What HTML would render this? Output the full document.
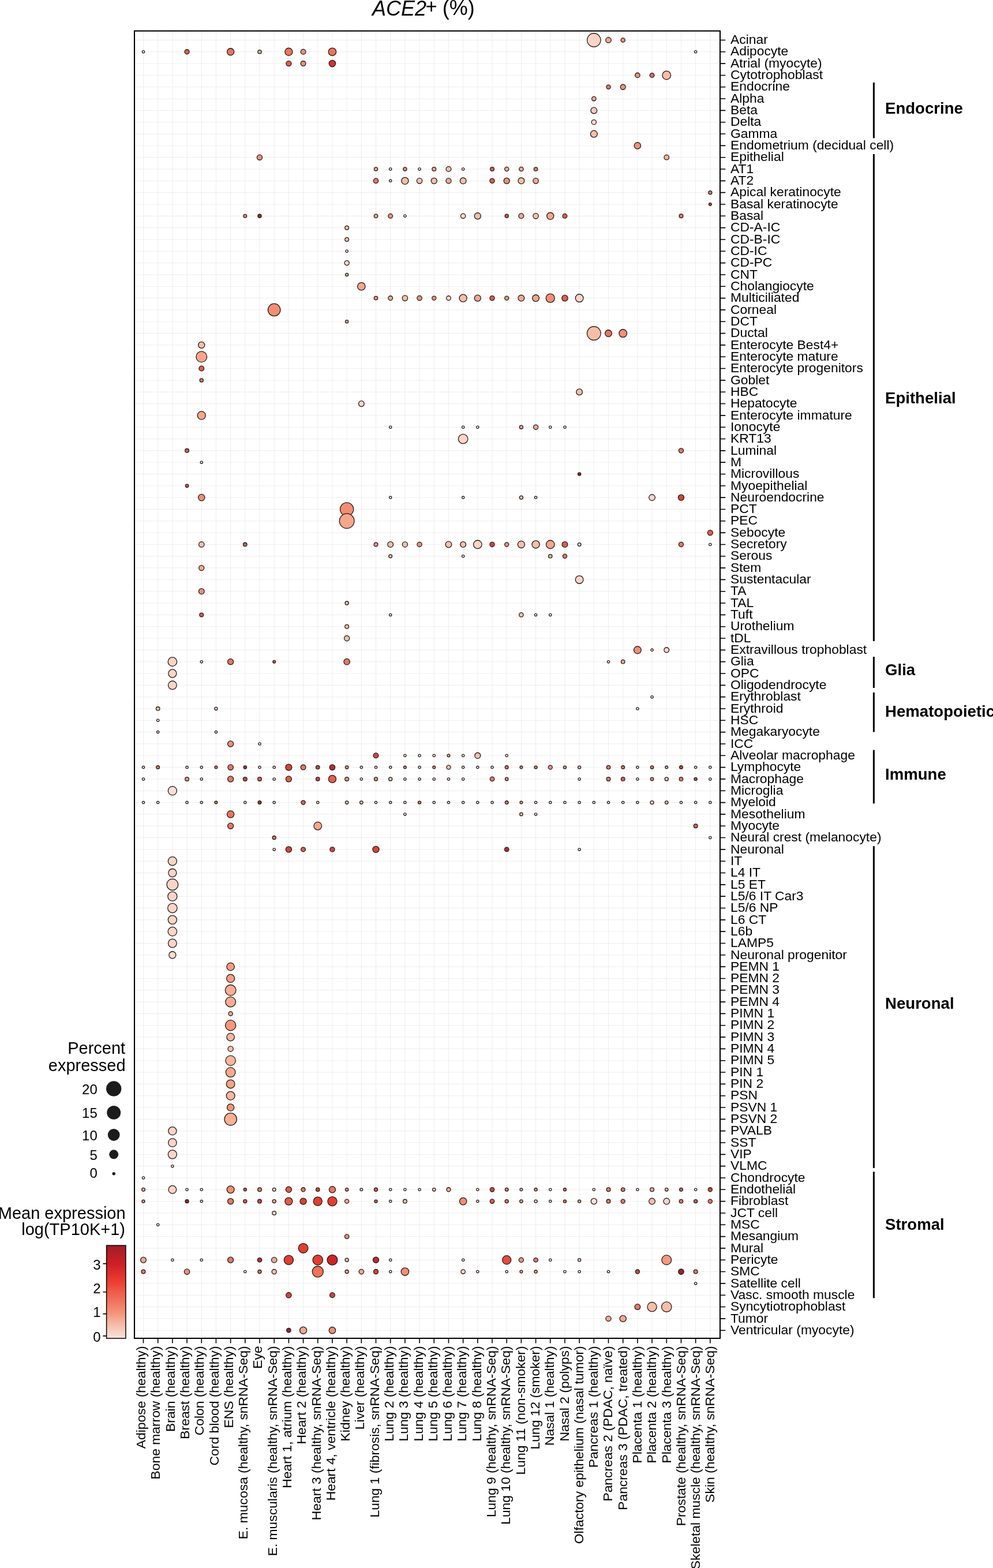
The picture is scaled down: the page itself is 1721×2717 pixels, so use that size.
<!DOCTYPE html>
<html><head><meta charset="utf-8"><title>ACE2+ (%) dot plot</title>
<style>html,body{margin:0;padding:0;background:#fff;}svg{display:block;}text{font-family:'Liberation Sans', Arial, Helvetica, sans-serif;fill:#000;}</style></head><body>
<svg width="1721" height="2717" viewBox="0 0 1721 2717">
<rect x="0" y="0" width="1721" height="2717" fill="#fff"/>
<path d="M248.50 53.60V2319.00M273.69 53.60V2319.00M298.88 53.60V2319.00M324.06 53.60V2319.00M349.25 53.60V2319.00M374.44 53.60V2319.00M399.63 53.60V2319.00M424.82 53.60V2319.00M450.00 53.60V2319.00M475.19 53.60V2319.00M500.38 53.60V2319.00M525.57 53.60V2319.00M550.76 53.60V2319.00M575.94 53.60V2319.00M601.13 53.60V2319.00M626.32 53.60V2319.00M651.51 53.60V2319.00M676.70 53.60V2319.00M701.88 53.60V2319.00M727.07 53.60V2319.00M752.26 53.60V2319.00M777.45 53.60V2319.00M802.64 53.60V2319.00M827.82 53.60V2319.00M853.01 53.60V2319.00M878.20 53.60V2319.00M903.39 53.60V2319.00M928.58 53.60V2319.00M953.76 53.60V2319.00M978.95 53.60V2319.00M1004.14 53.60V2319.00M1029.33 53.60V2319.00M1054.52 53.60V2319.00M1079.70 53.60V2319.00M1104.89 53.60V2319.00M1130.08 53.60V2319.00M1155.27 53.60V2319.00M1180.46 53.60V2319.00M1205.64 53.60V2319.00M1230.83 53.60V2319.00M233.00 69.45H1248.00M233.00 89.78H1248.00M233.00 110.10H1248.00M233.00 130.43H1248.00M233.00 150.75H1248.00M233.00 171.07H1248.00M233.00 191.40H1248.00M233.00 211.73H1248.00M233.00 232.05H1248.00M233.00 252.38H1248.00M233.00 272.70H1248.00M233.00 293.02H1248.00M233.00 313.35H1248.00M233.00 333.67H1248.00M233.00 354.00H1248.00M233.00 374.32H1248.00M233.00 394.65H1248.00M233.00 414.97H1248.00M233.00 435.30H1248.00M233.00 455.62H1248.00M233.00 475.95H1248.00M233.00 496.27H1248.00M233.00 516.60H1248.00M233.00 536.92H1248.00M233.00 557.25H1248.00M233.00 577.58H1248.00M233.00 597.90H1248.00M233.00 618.23H1248.00M233.00 638.55H1248.00M233.00 658.88H1248.00M233.00 679.20H1248.00M233.00 699.52H1248.00M233.00 719.85H1248.00M233.00 740.18H1248.00M233.00 760.50H1248.00M233.00 780.83H1248.00M233.00 801.15H1248.00M233.00 821.48H1248.00M233.00 841.80H1248.00M233.00 862.12H1248.00M233.00 882.45H1248.00M233.00 902.77H1248.00M233.00 923.10H1248.00M233.00 943.43H1248.00M233.00 963.75H1248.00M233.00 984.08H1248.00M233.00 1004.40H1248.00M233.00 1024.72H1248.00M233.00 1045.05H1248.00M233.00 1065.38H1248.00M233.00 1085.70H1248.00M233.00 1106.03H1248.00M233.00 1126.35H1248.00M233.00 1146.67H1248.00M233.00 1167.00H1248.00M233.00 1187.33H1248.00M233.00 1207.65H1248.00M233.00 1227.97H1248.00M233.00 1248.30H1248.00M233.00 1268.62H1248.00M233.00 1288.95H1248.00M233.00 1309.28H1248.00M233.00 1329.60H1248.00M233.00 1349.92H1248.00M233.00 1370.25H1248.00M233.00 1390.58H1248.00M233.00 1410.90H1248.00M233.00 1431.22H1248.00M233.00 1451.55H1248.00M233.00 1471.88H1248.00M233.00 1492.20H1248.00M233.00 1512.53H1248.00M233.00 1532.85H1248.00M233.00 1553.17H1248.00M233.00 1573.50H1248.00M233.00 1593.83H1248.00M233.00 1614.15H1248.00M233.00 1634.47H1248.00M233.00 1654.80H1248.00M233.00 1675.12H1248.00M233.00 1695.45H1248.00M233.00 1715.78H1248.00M233.00 1736.10H1248.00M233.00 1756.42H1248.00M233.00 1776.75H1248.00M233.00 1797.08H1248.00M233.00 1817.40H1248.00M233.00 1837.72H1248.00M233.00 1858.05H1248.00M233.00 1878.38H1248.00M233.00 1898.70H1248.00M233.00 1919.03H1248.00M233.00 1939.35H1248.00M233.00 1959.67H1248.00M233.00 1980.00H1248.00M233.00 2000.33H1248.00M233.00 2020.65H1248.00M233.00 2040.97H1248.00M233.00 2061.30H1248.00M233.00 2081.62H1248.00M233.00 2101.95H1248.00M233.00 2122.27H1248.00M233.00 2142.60H1248.00M233.00 2162.92H1248.00M233.00 2183.25H1248.00M233.00 2203.57H1248.00M233.00 2223.90H1248.00M233.00 2244.22H1248.00M233.00 2264.55H1248.00M233.00 2284.87H1248.00M233.00 2305.20H1248.00" stroke="#ededed" stroke-width="1" fill="none"/>
<g stroke="#2a1a16" stroke-width="1.3">
<circle cx="1029.33" cy="69.45" r="11.70" fill="#f9d5c6"/>
<circle cx="1054.52" cy="69.45" r="4.70" fill="#eca992"/>
<circle cx="1079.70" cy="69.45" r="3.60" fill="#e4947d"/>
<circle cx="248.50" cy="89.78" r="2.10" fill="#ffffff"/>
<circle cx="324.06" cy="89.78" r="4.05" fill="#d75f4d"/>
<circle cx="399.63" cy="89.78" r="6.05" fill="#ea755e"/>
<circle cx="450.00" cy="89.78" r="3.20" fill="#e8ab95"/>
<circle cx="500.38" cy="89.78" r="6.55" fill="#ec755d"/>
<circle cx="525.57" cy="89.78" r="4.35" fill="#e7927b"/>
<circle cx="575.94" cy="89.78" r="6.70" fill="#ed745c"/>
<circle cx="1205.64" cy="89.78" r="2.10" fill="#ffffff"/>
<circle cx="500.38" cy="110.10" r="4.55" fill="#da5e4c"/>
<circle cx="525.57" cy="110.10" r="4.35" fill="#e7927b"/>
<circle cx="575.94" cy="110.10" r="5.70" fill="#cd3531"/>
<circle cx="1104.89" cy="130.43" r="4.20" fill="#e6937c"/>
<circle cx="1130.08" cy="130.43" r="3.85" fill="#da6d5a"/>
<circle cx="1155.27" cy="130.43" r="7.30" fill="#f7bea6"/>
<circle cx="1054.52" cy="150.75" r="3.55" fill="#dd7a66"/>
<circle cx="1079.70" cy="150.75" r="4.50" fill="#e7927b"/>
<circle cx="1029.33" cy="171.07" r="3.70" fill="#e9aa95"/>
<circle cx="1029.33" cy="191.40" r="5.35" fill="#f4cbb9"/>
<circle cx="1029.33" cy="211.73" r="4.10" fill="#f6ddd4"/>
<circle cx="1029.33" cy="232.05" r="5.90" fill="#f4bfa9"/>
<circle cx="1104.89" cy="252.38" r="5.65" fill="#ec9177"/>
<circle cx="450.00" cy="272.70" r="4.55" fill="#e8927a"/>
<circle cx="1155.27" cy="272.70" r="4.25" fill="#edb59f"/>
<circle cx="651.51" cy="293.02" r="3.05" fill="#e8ab95"/>
<circle cx="676.70" cy="293.02" r="2.10" fill="#ffffff"/>
<circle cx="701.88" cy="293.02" r="3.05" fill="#e3947e"/>
<circle cx="727.07" cy="293.02" r="2.10" fill="#ffffff"/>
<circle cx="752.26" cy="293.02" r="3.35" fill="#e8ab95"/>
<circle cx="777.45" cy="293.02" r="4.35" fill="#f0c0ac"/>
<circle cx="802.64" cy="293.02" r="2.10" fill="#ffffff"/>
<circle cx="853.01" cy="293.02" r="3.35" fill="#d36150"/>
<circle cx="878.20" cy="293.02" r="3.55" fill="#e9aa95"/>
<circle cx="903.39" cy="293.02" r="3.70" fill="#e9aa95"/>
<circle cx="928.58" cy="293.02" r="3.20" fill="#dc7b67"/>
<circle cx="651.51" cy="313.35" r="4.20" fill="#e07964"/>
<circle cx="676.70" cy="313.35" r="2.10" fill="#ffffff"/>
<circle cx="701.88" cy="313.35" r="6.05" fill="#f4bfa9"/>
<circle cx="727.07" cy="313.35" r="4.70" fill="#f1c0ac"/>
<circle cx="752.26" cy="313.35" r="5.05" fill="#f2c0ab"/>
<circle cx="777.45" cy="313.35" r="4.55" fill="#eca992"/>
<circle cx="802.64" cy="313.35" r="5.35" fill="#f2c0aa"/>
<circle cx="853.01" cy="313.35" r="4.05" fill="#d75f4d"/>
<circle cx="878.20" cy="313.35" r="5.05" fill="#ea9179"/>
<circle cx="903.39" cy="313.35" r="5.35" fill="#f2c0aa"/>
<circle cx="928.58" cy="313.35" r="4.70" fill="#eca992"/>
<circle cx="1230.83" cy="333.67" r="3.05" fill="#dc7b67"/>
<circle cx="1230.83" cy="354.00" r="2.35" fill="#c9493e"/>
<circle cx="424.82" cy="374.32" r="2.85" fill="#e3947e"/>
<circle cx="450.00" cy="374.32" r="3.05" fill="#a22a2e"/>
<circle cx="651.51" cy="374.32" r="3.20" fill="#e8ab95"/>
<circle cx="676.70" cy="374.32" r="3.85" fill="#e5937d"/>
<circle cx="701.88" cy="374.32" r="2.10" fill="#ffffff"/>
<circle cx="802.64" cy="374.32" r="4.20" fill="#f4d7ca"/>
<circle cx="827.82" cy="374.32" r="5.55" fill="#f3bfaa"/>
<circle cx="878.20" cy="374.32" r="3.05" fill="#d36150"/>
<circle cx="903.39" cy="374.32" r="4.35" fill="#eba993"/>
<circle cx="928.58" cy="374.32" r="4.70" fill="#f1c0ac"/>
<circle cx="953.76" cy="374.32" r="6.05" fill="#f1a78e"/>
<circle cx="978.95" cy="374.32" r="3.85" fill="#d6604e"/>
<circle cx="1180.46" cy="374.32" r="3.35" fill="#dc7b67"/>
<circle cx="601.13" cy="394.65" r="3.35" fill="#eec1ae"/>
<circle cx="601.13" cy="414.97" r="3.35" fill="#eec1ae"/>
<circle cx="601.13" cy="435.30" r="2.10" fill="#ffffff"/>
<circle cx="601.13" cy="455.62" r="4.05" fill="#f4d7ca"/>
<circle cx="601.13" cy="475.95" r="2.55" fill="#e8ab95"/>
<circle cx="626.32" cy="496.27" r="6.70" fill="#f3a78d"/>
<circle cx="651.51" cy="516.60" r="3.20" fill="#e3947e"/>
<circle cx="676.70" cy="516.60" r="3.85" fill="#eaaa94"/>
<circle cx="701.88" cy="516.60" r="4.70" fill="#f1c0ac"/>
<circle cx="727.07" cy="516.60" r="4.20" fill="#e6937c"/>
<circle cx="752.26" cy="516.60" r="3.55" fill="#e4947d"/>
<circle cx="777.45" cy="516.60" r="3.85" fill="#f4d7cb"/>
<circle cx="802.64" cy="516.60" r="6.55" fill="#f5bfa8"/>
<circle cx="827.82" cy="516.60" r="5.55" fill="#efa890"/>
<circle cx="853.01" cy="516.60" r="4.05" fill="#d75f4d"/>
<circle cx="878.20" cy="516.60" r="3.55" fill="#e4947d"/>
<circle cx="903.39" cy="516.60" r="5.35" fill="#efa890"/>
<circle cx="928.58" cy="516.60" r="5.85" fill="#f0a88f"/>
<circle cx="953.76" cy="516.60" r="7.55" fill="#f38e72"/>
<circle cx="978.95" cy="516.60" r="5.20" fill="#de5d49"/>
<circle cx="1004.14" cy="516.60" r="6.85" fill="#f8d5c7"/>
<circle cx="475.19" cy="536.92" r="10.70" fill="#f38e72"/>
<circle cx="601.13" cy="557.25" r="2.55" fill="#e8ab95"/>
<circle cx="1029.33" cy="577.58" r="11.85" fill="#f7bea6"/>
<circle cx="1054.52" cy="577.58" r="5.85" fill="#e9765f"/>
<circle cx="1079.70" cy="577.58" r="6.85" fill="#f18f74"/>
<circle cx="349.25" cy="597.90" r="5.55" fill="#f3bfaa"/>
<circle cx="349.25" cy="618.23" r="9.35" fill="#f5a68b"/>
<circle cx="349.25" cy="638.55" r="4.35" fill="#d95f4c"/>
<circle cx="349.25" cy="658.88" r="3.05" fill="#dc7b67"/>
<circle cx="1004.14" cy="679.20" r="5.35" fill="#f2c0aa"/>
<circle cx="626.32" cy="699.52" r="4.85" fill="#f5d6c9"/>
<circle cx="349.25" cy="719.85" r="7.05" fill="#f4a68c"/>
<circle cx="676.70" cy="740.18" r="2.10" fill="#ffffff"/>
<circle cx="802.64" cy="740.18" r="2.10" fill="#ffffff"/>
<circle cx="827.82" cy="740.18" r="2.10" fill="#ffffff"/>
<circle cx="903.39" cy="740.18" r="3.05" fill="#e8ab95"/>
<circle cx="928.58" cy="740.18" r="4.05" fill="#eaaa94"/>
<circle cx="953.76" cy="740.18" r="2.10" fill="#ffffff"/>
<circle cx="978.95" cy="740.18" r="2.10" fill="#ffffff"/>
<circle cx="802.64" cy="760.50" r="8.20" fill="#f9d5c6"/>
<circle cx="324.06" cy="780.83" r="3.35" fill="#d36150"/>
<circle cx="1180.46" cy="780.83" r="4.05" fill="#e07965"/>
<circle cx="349.25" cy="801.15" r="2.10" fill="#ffffff"/>
<circle cx="1004.14" cy="821.48" r="2.55" fill="#93252a"/>
<circle cx="324.06" cy="841.80" r="2.70" fill="#d36150"/>
<circle cx="349.25" cy="862.12" r="5.70" fill="#ec9077"/>
<circle cx="676.70" cy="862.12" r="2.10" fill="#ffffff"/>
<circle cx="802.64" cy="862.12" r="2.10" fill="#ffffff"/>
<circle cx="903.39" cy="862.12" r="3.05" fill="#eec1ae"/>
<circle cx="928.58" cy="862.12" r="2.10" fill="#ffffff"/>
<circle cx="1130.08" cy="862.12" r="5.35" fill="#f6d6c9"/>
<circle cx="1180.46" cy="862.12" r="5.05" fill="#d44438"/>
<circle cx="601.13" cy="882.45" r="11.55" fill="#f38e72"/>
<circle cx="601.13" cy="902.77" r="12.85" fill="#f5a68b"/>
<circle cx="1230.83" cy="923.10" r="4.55" fill="#da5e4c"/>
<circle cx="349.25" cy="943.43" r="4.70" fill="#f1c0ac"/>
<circle cx="424.82" cy="943.43" r="3.20" fill="#d36150"/>
<circle cx="651.51" cy="943.43" r="3.35" fill="#e3947e"/>
<circle cx="676.70" cy="943.43" r="4.85" fill="#f1c0ab"/>
<circle cx="701.88" cy="943.43" r="4.55" fill="#f0c0ac"/>
<circle cx="727.07" cy="943.43" r="4.05" fill="#e6937c"/>
<circle cx="777.45" cy="943.43" r="5.35" fill="#f2c0aa"/>
<circle cx="802.64" cy="943.43" r="4.85" fill="#f1c0ab"/>
<circle cx="827.82" cy="943.43" r="7.20" fill="#f9d5c6"/>
<circle cx="853.01" cy="943.43" r="4.05" fill="#ce473b"/>
<circle cx="878.20" cy="943.43" r="3.55" fill="#e4947d"/>
<circle cx="903.39" cy="943.43" r="6.05" fill="#f4bfa9"/>
<circle cx="928.58" cy="943.43" r="6.55" fill="#f5bfa8"/>
<circle cx="953.76" cy="943.43" r="7.20" fill="#f5a68b"/>
<circle cx="978.95" cy="943.43" r="4.85" fill="#dc5e4b"/>
<circle cx="1004.14" cy="943.43" r="2.85" fill="#f3d7cb"/>
<circle cx="1180.46" cy="943.43" r="4.05" fill="#e07965"/>
<circle cx="1230.83" cy="943.43" r="2.10" fill="#ffffff"/>
<circle cx="676.70" cy="963.75" r="2.85" fill="#eec1ae"/>
<circle cx="802.64" cy="963.75" r="2.10" fill="#ffffff"/>
<circle cx="953.76" cy="963.75" r="3.20" fill="#e8ab95"/>
<circle cx="978.95" cy="963.75" r="3.55" fill="#dd7a66"/>
<circle cx="349.25" cy="984.08" r="4.55" fill="#eca992"/>
<circle cx="1004.14" cy="1004.40" r="6.85" fill="#f8d5c7"/>
<circle cx="349.25" cy="1024.72" r="4.85" fill="#e9927a"/>
<circle cx="601.13" cy="1045.05" r="3.05" fill="#eec1ae"/>
<circle cx="349.25" cy="1065.38" r="3.35" fill="#d36150"/>
<circle cx="676.70" cy="1065.38" r="2.10" fill="#ffffff"/>
<circle cx="903.39" cy="1065.38" r="3.70" fill="#eec1ae"/>
<circle cx="928.58" cy="1065.38" r="2.10" fill="#ffffff"/>
<circle cx="953.76" cy="1065.38" r="2.10" fill="#ffffff"/>
<circle cx="601.13" cy="1085.70" r="3.35" fill="#eec1ae"/>
<circle cx="601.13" cy="1106.03" r="4.55" fill="#f0c0ac"/>
<circle cx="1104.89" cy="1126.35" r="6.35" fill="#ef8f75"/>
<circle cx="1130.08" cy="1126.35" r="2.10" fill="#ffffff"/>
<circle cx="1155.27" cy="1126.35" r="4.35" fill="#f5d6ca"/>
<circle cx="298.88" cy="1146.67" r="7.70" fill="#f9d5c6"/>
<circle cx="349.25" cy="1146.67" r="2.10" fill="#ffffff"/>
<circle cx="399.63" cy="1146.67" r="5.05" fill="#e57762"/>
<circle cx="475.19" cy="1146.67" r="2.35" fill="#d36150"/>
<circle cx="601.13" cy="1146.67" r="5.20" fill="#e57761"/>
<circle cx="1054.52" cy="1146.67" r="2.10" fill="#ffffff"/>
<circle cx="1079.70" cy="1146.67" r="3.20" fill="#e8ab95"/>
<circle cx="298.88" cy="1167.00" r="7.05" fill="#f9d5c6"/>
<circle cx="298.88" cy="1187.33" r="7.35" fill="#f9d5c6"/>
<circle cx="1130.08" cy="1207.65" r="2.10" fill="#ffffff"/>
<circle cx="273.69" cy="1227.97" r="3.20" fill="#eec1ae"/>
<circle cx="374.44" cy="1227.97" r="2.55" fill="#f3d7cb"/>
<circle cx="1104.89" cy="1227.97" r="2.10" fill="#ffffff"/>
<circle cx="273.69" cy="1248.30" r="2.10" fill="#ffffff"/>
<circle cx="273.69" cy="1268.62" r="2.10" fill="#ffffff"/>
<circle cx="374.44" cy="1268.62" r="2.10" fill="#ffffff"/>
<circle cx="399.63" cy="1288.95" r="5.05" fill="#ea9179"/>
<circle cx="450.00" cy="1288.95" r="2.10" fill="#ffffff"/>
<circle cx="651.51" cy="1309.28" r="4.35" fill="#d0463a"/>
<circle cx="701.88" cy="1309.28" r="2.10" fill="#ffffff"/>
<circle cx="727.07" cy="1309.28" r="2.10" fill="#ffffff"/>
<circle cx="752.26" cy="1309.28" r="2.10" fill="#ffffff"/>
<circle cx="777.45" cy="1309.28" r="2.35" fill="#e8ab95"/>
<circle cx="802.64" cy="1309.28" r="2.10" fill="#ffffff"/>
<circle cx="827.82" cy="1309.28" r="5.05" fill="#f2c0ab"/>
<circle cx="878.20" cy="1309.28" r="2.10" fill="#ffffff"/>
<circle cx="248.50" cy="1329.60" r="2.10" fill="#ffffff"/>
<circle cx="273.69" cy="1329.60" r="2.85" fill="#dc7b67"/>
<circle cx="324.06" cy="1329.60" r="2.10" fill="#ffffff"/>
<circle cx="349.25" cy="1329.60" r="2.10" fill="#ffffff"/>
<circle cx="374.44" cy="1329.60" r="2.35" fill="#dc7b67"/>
<circle cx="399.63" cy="1329.60" r="4.70" fill="#e37863"/>
<circle cx="424.82" cy="1329.60" r="2.65" fill="#b22f32"/>
<circle cx="450.00" cy="1329.60" r="2.10" fill="#ffffff"/>
<circle cx="475.19" cy="1329.60" r="2.10" fill="#ffffff"/>
<circle cx="500.38" cy="1329.60" r="5.55" fill="#d74336"/>
<circle cx="525.57" cy="1329.60" r="4.35" fill="#e17964"/>
<circle cx="550.76" cy="1329.60" r="3.20" fill="#c9493e"/>
<circle cx="575.94" cy="1329.60" r="4.70" fill="#bb2b2f"/>
<circle cx="601.13" cy="1329.60" r="2.70" fill="#e3947e"/>
<circle cx="626.32" cy="1329.60" r="2.10" fill="#ffffff"/>
<circle cx="651.51" cy="1329.60" r="2.10" fill="#ffffff"/>
<circle cx="676.70" cy="1329.60" r="2.10" fill="#ffffff"/>
<circle cx="701.88" cy="1329.60" r="2.35" fill="#e3947e"/>
<circle cx="727.07" cy="1329.60" r="2.10" fill="#ffffff"/>
<circle cx="752.26" cy="1329.60" r="2.35" fill="#e3947e"/>
<circle cx="777.45" cy="1329.60" r="3.55" fill="#eec1ae"/>
<circle cx="802.64" cy="1329.60" r="2.10" fill="#ffffff"/>
<circle cx="827.82" cy="1329.60" r="2.10" fill="#ffffff"/>
<circle cx="853.01" cy="1329.60" r="2.10" fill="#ffffff"/>
<circle cx="878.20" cy="1329.60" r="2.85" fill="#dc7b67"/>
<circle cx="903.39" cy="1329.60" r="2.35" fill="#e3947e"/>
<circle cx="928.58" cy="1329.60" r="2.55" fill="#dc7b67"/>
<circle cx="953.76" cy="1329.60" r="3.55" fill="#e4947d"/>
<circle cx="978.95" cy="1329.60" r="2.55" fill="#e3947e"/>
<circle cx="1004.14" cy="1329.60" r="2.55" fill="#eec1ae"/>
<circle cx="1054.52" cy="1329.60" r="3.20" fill="#dc7b67"/>
<circle cx="1079.70" cy="1329.60" r="2.85" fill="#dc7b67"/>
<circle cx="1104.89" cy="1329.60" r="2.10" fill="#ffffff"/>
<circle cx="1130.08" cy="1329.60" r="2.70" fill="#dc7b67"/>
<circle cx="1155.27" cy="1329.60" r="2.35" fill="#e8ab95"/>
<circle cx="1180.46" cy="1329.60" r="2.85" fill="#c9493e"/>
<circle cx="1205.64" cy="1329.60" r="2.10" fill="#ffffff"/>
<circle cx="1230.83" cy="1329.60" r="2.10" fill="#ffffff"/>
<circle cx="248.50" cy="1349.92" r="2.10" fill="#ffffff"/>
<circle cx="324.06" cy="1349.92" r="3.35" fill="#e3947e"/>
<circle cx="349.25" cy="1349.92" r="2.10" fill="#ffffff"/>
<circle cx="399.63" cy="1349.92" r="5.05" fill="#e57762"/>
<circle cx="424.82" cy="1349.92" r="3.35" fill="#c9493e"/>
<circle cx="450.00" cy="1349.92" r="3.35" fill="#d36150"/>
<circle cx="475.19" cy="1349.92" r="2.10" fill="#ffffff"/>
<circle cx="500.38" cy="1349.92" r="5.05" fill="#dd5d4a"/>
<circle cx="550.76" cy="1349.92" r="3.20" fill="#c9493e"/>
<circle cx="575.94" cy="1349.92" r="6.55" fill="#e75f4a"/>
<circle cx="601.13" cy="1349.92" r="3.35" fill="#e3947e"/>
<circle cx="626.32" cy="1349.92" r="2.10" fill="#ffffff"/>
<circle cx="651.51" cy="1349.92" r="3.05" fill="#e3947e"/>
<circle cx="676.70" cy="1349.92" r="3.05" fill="#eec1ae"/>
<circle cx="701.88" cy="1349.92" r="2.10" fill="#ffffff"/>
<circle cx="727.07" cy="1349.92" r="2.10" fill="#ffffff"/>
<circle cx="752.26" cy="1349.92" r="2.10" fill="#ffffff"/>
<circle cx="777.45" cy="1349.92" r="2.10" fill="#ffffff"/>
<circle cx="802.64" cy="1349.92" r="2.10" fill="#ffffff"/>
<circle cx="853.01" cy="1349.92" r="3.70" fill="#de7a66"/>
<circle cx="878.20" cy="1349.92" r="2.70" fill="#e3947e"/>
<circle cx="1004.14" cy="1349.92" r="2.10" fill="#ffffff"/>
<circle cx="1054.52" cy="1349.92" r="3.35" fill="#dc7b67"/>
<circle cx="1079.70" cy="1349.92" r="3.20" fill="#d36150"/>
<circle cx="1104.89" cy="1349.92" r="2.10" fill="#ffffff"/>
<circle cx="1130.08" cy="1349.92" r="2.70" fill="#e3947e"/>
<circle cx="1155.27" cy="1349.92" r="3.05" fill="#eec1ae"/>
<circle cx="1180.46" cy="1349.92" r="3.20" fill="#dc7b67"/>
<circle cx="1205.64" cy="1349.92" r="2.55" fill="#c9493e"/>
<circle cx="1230.83" cy="1349.92" r="2.10" fill="#ffffff"/>
<circle cx="298.88" cy="1370.25" r="7.55" fill="#fbdfd4"/>
<circle cx="248.50" cy="1390.58" r="2.10" fill="#ffffff"/>
<circle cx="273.69" cy="1390.58" r="2.10" fill="#ffffff"/>
<circle cx="324.06" cy="1390.58" r="2.10" fill="#ffffff"/>
<circle cx="349.25" cy="1390.58" r="2.10" fill="#ffffff"/>
<circle cx="374.44" cy="1390.58" r="2.35" fill="#dc7b67"/>
<circle cx="424.82" cy="1390.58" r="2.10" fill="#ffffff"/>
<circle cx="450.00" cy="1390.58" r="2.85" fill="#b22f32"/>
<circle cx="475.19" cy="1390.58" r="2.10" fill="#ffffff"/>
<circle cx="525.57" cy="1390.58" r="3.55" fill="#d4614f"/>
<circle cx="550.76" cy="1390.58" r="2.10" fill="#ffffff"/>
<circle cx="601.13" cy="1390.58" r="2.70" fill="#eec1ae"/>
<circle cx="626.32" cy="1390.58" r="2.70" fill="#eec1ae"/>
<circle cx="651.51" cy="1390.58" r="2.10" fill="#ffffff"/>
<circle cx="676.70" cy="1390.58" r="2.10" fill="#ffffff"/>
<circle cx="701.88" cy="1390.58" r="2.10" fill="#ffffff"/>
<circle cx="727.07" cy="1390.58" r="2.55" fill="#dc7b67"/>
<circle cx="752.26" cy="1390.58" r="2.10" fill="#ffffff"/>
<circle cx="777.45" cy="1390.58" r="2.10" fill="#ffffff"/>
<circle cx="802.64" cy="1390.58" r="2.10" fill="#ffffff"/>
<circle cx="827.82" cy="1390.58" r="2.10" fill="#ffffff"/>
<circle cx="853.01" cy="1390.58" r="2.10" fill="#ffffff"/>
<circle cx="878.20" cy="1390.58" r="2.85" fill="#dc7b67"/>
<circle cx="903.39" cy="1390.58" r="2.35" fill="#e8ab95"/>
<circle cx="928.58" cy="1390.58" r="2.10" fill="#ffffff"/>
<circle cx="953.76" cy="1390.58" r="2.10" fill="#ffffff"/>
<circle cx="978.95" cy="1390.58" r="2.10" fill="#ffffff"/>
<circle cx="1004.14" cy="1390.58" r="2.10" fill="#ffffff"/>
<circle cx="1029.33" cy="1390.58" r="2.10" fill="#ffffff"/>
<circle cx="1054.52" cy="1390.58" r="2.10" fill="#ffffff"/>
<circle cx="1079.70" cy="1390.58" r="2.10" fill="#ffffff"/>
<circle cx="1104.89" cy="1390.58" r="2.10" fill="#ffffff"/>
<circle cx="1130.08" cy="1390.58" r="3.05" fill="#f3d7cb"/>
<circle cx="1155.27" cy="1390.58" r="2.70" fill="#eec1ae"/>
<circle cx="1180.46" cy="1390.58" r="2.10" fill="#ffffff"/>
<circle cx="1205.64" cy="1390.58" r="2.10" fill="#ffffff"/>
<circle cx="1230.83" cy="1390.58" r="2.10" fill="#ffffff"/>
<circle cx="399.63" cy="1410.90" r="6.05" fill="#ea755e"/>
<circle cx="701.88" cy="1410.90" r="2.10" fill="#ffffff"/>
<circle cx="903.39" cy="1410.90" r="2.70" fill="#eec1ae"/>
<circle cx="928.58" cy="1410.90" r="2.10" fill="#ffffff"/>
<circle cx="399.63" cy="1431.22" r="5.05" fill="#e57762"/>
<circle cx="550.76" cy="1431.22" r="6.85" fill="#f3a78c"/>
<circle cx="1205.64" cy="1431.22" r="3.35" fill="#d36150"/>
<circle cx="475.19" cy="1451.55" r="3.05" fill="#dc7b67"/>
<circle cx="1230.83" cy="1451.55" r="2.10" fill="#ffffff"/>
<circle cx="475.19" cy="1471.88" r="2.10" fill="#ffffff"/>
<circle cx="500.38" cy="1471.88" r="5.05" fill="#d44438"/>
<circle cx="525.57" cy="1471.88" r="3.85" fill="#d6604e"/>
<circle cx="575.94" cy="1471.88" r="4.05" fill="#ce473b"/>
<circle cx="651.51" cy="1471.88" r="5.55" fill="#d74336"/>
<circle cx="878.20" cy="1471.88" r="3.70" fill="#b42e31"/>
<circle cx="1004.14" cy="1471.88" r="2.10" fill="#ffffff"/>
<circle cx="298.88" cy="1492.20" r="7.55" fill="#f9d5c6"/>
<circle cx="298.88" cy="1512.53" r="7.05" fill="#f9d5c6"/>
<circle cx="298.88" cy="1532.85" r="9.85" fill="#f9d5c6"/>
<circle cx="298.88" cy="1553.17" r="8.05" fill="#f9d5c6"/>
<circle cx="298.88" cy="1573.50" r="8.20" fill="#f9d5c6"/>
<circle cx="298.88" cy="1593.83" r="7.55" fill="#f9d5c6"/>
<circle cx="298.88" cy="1614.15" r="7.70" fill="#f9d5c6"/>
<circle cx="298.88" cy="1634.47" r="7.35" fill="#f9d5c6"/>
<circle cx="298.88" cy="1654.80" r="6.05" fill="#f8ddd1"/>
<circle cx="399.63" cy="1675.12" r="6.70" fill="#f29b80"/>
<circle cx="399.63" cy="1695.45" r="7.00" fill="#f39f85"/>
<circle cx="399.63" cy="1715.78" r="9.30" fill="#f6ad93"/>
<circle cx="399.63" cy="1736.10" r="8.80" fill="#f6ad93"/>
<circle cx="399.63" cy="1756.42" r="3.60" fill="#e9aa95"/>
<circle cx="399.63" cy="1776.75" r="9.05" fill="#f4987c"/>
<circle cx="399.63" cy="1797.08" r="6.70" fill="#f4b89f"/>
<circle cx="399.63" cy="1817.40" r="4.60" fill="#f1c0ac"/>
<circle cx="399.63" cy="1837.72" r="8.65" fill="#f6b79e"/>
<circle cx="399.63" cy="1858.05" r="8.35" fill="#f5a88e"/>
<circle cx="399.63" cy="1878.38" r="7.35" fill="#f5a488"/>
<circle cx="399.63" cy="1898.70" r="7.35" fill="#f6b79e"/>
<circle cx="399.63" cy="1919.03" r="6.10" fill="#ee957b"/>
<circle cx="399.63" cy="1939.35" r="10.65" fill="#f6b096"/>
<circle cx="298.88" cy="1959.67" r="7.05" fill="#f9d5c6"/>
<circle cx="298.88" cy="1980.00" r="7.20" fill="#f9d5c6"/>
<circle cx="298.88" cy="2000.33" r="7.55" fill="#f9d5c6"/>
<circle cx="298.88" cy="2020.65" r="2.10" fill="#ffffff"/>
<circle cx="248.50" cy="2040.97" r="2.10" fill="#ffffff"/>
<circle cx="248.50" cy="2061.30" r="2.85" fill="#e8ab95"/>
<circle cx="298.88" cy="2061.30" r="6.85" fill="#f8d5c7"/>
<circle cx="324.06" cy="2061.30" r="2.10" fill="#ffffff"/>
<circle cx="349.25" cy="2061.30" r="2.10" fill="#ffffff"/>
<circle cx="399.63" cy="2061.30" r="6.35" fill="#ef8f75"/>
<circle cx="424.82" cy="2061.30" r="2.55" fill="#d36150"/>
<circle cx="450.00" cy="2061.30" r="3.35" fill="#dc7b67"/>
<circle cx="475.19" cy="2061.30" r="2.85" fill="#f3d7cb"/>
<circle cx="500.38" cy="2061.30" r="5.05" fill="#dd5d4a"/>
<circle cx="525.57" cy="2061.30" r="3.55" fill="#dd7a66"/>
<circle cx="550.76" cy="2061.30" r="3.20" fill="#c9493e"/>
<circle cx="575.94" cy="2061.30" r="5.55" fill="#e77660"/>
<circle cx="601.13" cy="2061.30" r="2.70" fill="#e3947e"/>
<circle cx="626.32" cy="2061.30" r="2.35" fill="#f3d7cb"/>
<circle cx="651.51" cy="2061.30" r="3.05" fill="#d36150"/>
<circle cx="676.70" cy="2061.30" r="2.10" fill="#ffffff"/>
<circle cx="701.88" cy="2061.30" r="2.10" fill="#ffffff"/>
<circle cx="727.07" cy="2061.30" r="2.10" fill="#ffffff"/>
<circle cx="752.26" cy="2061.30" r="2.70" fill="#f3d7cb"/>
<circle cx="777.45" cy="2061.30" r="3.55" fill="#e9aa95"/>
<circle cx="827.82" cy="2061.30" r="2.10" fill="#ffffff"/>
<circle cx="853.01" cy="2061.30" r="3.70" fill="#cb483c"/>
<circle cx="878.20" cy="2061.30" r="2.85" fill="#dc7b67"/>
<circle cx="903.39" cy="2061.30" r="2.35" fill="#eec1ae"/>
<circle cx="928.58" cy="2061.30" r="2.55" fill="#e3947e"/>
<circle cx="953.76" cy="2061.30" r="2.10" fill="#ffffff"/>
<circle cx="978.95" cy="2061.30" r="2.55" fill="#dc7b67"/>
<circle cx="1029.33" cy="2061.30" r="2.10" fill="#ffffff"/>
<circle cx="1054.52" cy="2061.30" r="3.35" fill="#dc7b67"/>
<circle cx="1079.70" cy="2061.30" r="3.20" fill="#dc7b67"/>
<circle cx="1104.89" cy="2061.30" r="2.10" fill="#ffffff"/>
<circle cx="1130.08" cy="2061.30" r="3.35" fill="#e8ab95"/>
<circle cx="1155.27" cy="2061.30" r="2.70" fill="#eec1ae"/>
<circle cx="1180.46" cy="2061.30" r="2.85" fill="#d36150"/>
<circle cx="1205.64" cy="2061.30" r="2.10" fill="#ffffff"/>
<circle cx="1230.83" cy="2061.30" r="3.55" fill="#ca483d"/>
<circle cx="248.50" cy="2081.62" r="2.55" fill="#e3947e"/>
<circle cx="324.06" cy="2081.62" r="3.05" fill="#93252a"/>
<circle cx="349.25" cy="2081.62" r="2.10" fill="#ffffff"/>
<circle cx="399.63" cy="2081.62" r="5.05" fill="#e57762"/>
<circle cx="424.82" cy="2081.62" r="3.05" fill="#d36150"/>
<circle cx="450.00" cy="2081.62" r="3.35" fill="#c9493e"/>
<circle cx="475.19" cy="2081.62" r="3.05" fill="#e8ab95"/>
<circle cx="500.38" cy="2081.62" r="6.55" fill="#e55a45"/>
<circle cx="525.57" cy="2081.62" r="5.55" fill="#d74336"/>
<circle cx="550.76" cy="2081.62" r="7.55" fill="#e33e30"/>
<circle cx="575.94" cy="2081.62" r="8.05" fill="#e33e30"/>
<circle cx="601.13" cy="2081.62" r="3.55" fill="#e9aa95"/>
<circle cx="651.51" cy="2081.62" r="2.55" fill="#d36150"/>
<circle cx="676.70" cy="2081.62" r="2.10" fill="#ffffff"/>
<circle cx="701.88" cy="2081.62" r="3.35" fill="#eec1ae"/>
<circle cx="802.64" cy="2081.62" r="6.20" fill="#ee9075"/>
<circle cx="827.82" cy="2081.62" r="2.10" fill="#ffffff"/>
<circle cx="853.01" cy="2081.62" r="3.70" fill="#d5604f"/>
<circle cx="878.20" cy="2081.62" r="3.05" fill="#dc7b67"/>
<circle cx="903.39" cy="2081.62" r="2.70" fill="#e8ab95"/>
<circle cx="928.58" cy="2081.62" r="2.55" fill="#f3d7cb"/>
<circle cx="953.76" cy="2081.62" r="2.10" fill="#ffffff"/>
<circle cx="978.95" cy="2081.62" r="2.55" fill="#dc7b67"/>
<circle cx="1004.14" cy="2081.62" r="2.55" fill="#e8ab95"/>
<circle cx="1029.33" cy="2081.62" r="5.05" fill="#f9e3d9"/>
<circle cx="1054.52" cy="2081.62" r="3.35" fill="#dc7b67"/>
<circle cx="1079.70" cy="2081.62" r="3.55" fill="#dd7a66"/>
<circle cx="1130.08" cy="2081.62" r="5.35" fill="#f2c0aa"/>
<circle cx="1155.27" cy="2081.62" r="5.35" fill="#f6d6c9"/>
<circle cx="1180.46" cy="2081.62" r="3.20" fill="#dc7b67"/>
<circle cx="1205.64" cy="2081.62" r="3.05" fill="#d36150"/>
<circle cx="1230.83" cy="2081.62" r="3.55" fill="#dd7a66"/>
<circle cx="475.19" cy="2101.95" r="3.35" fill="#f3d7cb"/>
<circle cx="273.69" cy="2122.27" r="2.10" fill="#ffffff"/>
<circle cx="601.13" cy="2142.60" r="3.70" fill="#e4937d"/>
<circle cx="525.57" cy="2162.92" r="8.35" fill="#e33e30"/>
<circle cx="248.50" cy="2183.25" r="4.85" fill="#eda992"/>
<circle cx="298.88" cy="2183.25" r="2.10" fill="#ffffff"/>
<circle cx="349.25" cy="2183.25" r="2.10" fill="#ffffff"/>
<circle cx="399.63" cy="2183.25" r="5.05" fill="#e57762"/>
<circle cx="450.00" cy="2183.25" r="3.70" fill="#b42e31"/>
<circle cx="475.19" cy="2183.25" r="4.70" fill="#eca992"/>
<circle cx="500.38" cy="2183.25" r="8.05" fill="#e33e30"/>
<circle cx="550.76" cy="2183.25" r="8.70" fill="#e33e30"/>
<circle cx="575.94" cy="2183.25" r="8.85" fill="#cc2428"/>
<circle cx="601.13" cy="2183.25" r="3.05" fill="#eec1ae"/>
<circle cx="651.51" cy="2183.25" r="5.05" fill="#bd2a2e"/>
<circle cx="676.70" cy="2183.25" r="2.10" fill="#ffffff"/>
<circle cx="802.64" cy="2183.25" r="2.10" fill="#ffffff"/>
<circle cx="878.20" cy="2183.25" r="7.55" fill="#e64b39"/>
<circle cx="903.39" cy="2183.25" r="4.05" fill="#e6937c"/>
<circle cx="928.58" cy="2183.25" r="3.70" fill="#de7a66"/>
<circle cx="953.76" cy="2183.25" r="2.10" fill="#ffffff"/>
<circle cx="1004.14" cy="2183.25" r="2.55" fill="#f3d7cb"/>
<circle cx="1155.27" cy="2183.25" r="8.35" fill="#f49a7e"/>
<circle cx="248.50" cy="2203.57" r="3.35" fill="#dc7b67"/>
<circle cx="324.06" cy="2203.57" r="4.70" fill="#e8927a"/>
<circle cx="424.82" cy="2203.57" r="2.10" fill="#ffffff"/>
<circle cx="450.00" cy="2203.57" r="3.05" fill="#dc7b67"/>
<circle cx="475.19" cy="2203.57" r="4.05" fill="#efc1ad"/>
<circle cx="550.76" cy="2203.57" r="9.55" fill="#f0735a"/>
<circle cx="601.13" cy="2203.57" r="3.05" fill="#e8ab95"/>
<circle cx="626.32" cy="2203.57" r="4.20" fill="#ebaa93"/>
<circle cx="651.51" cy="2203.57" r="4.05" fill="#ce473b"/>
<circle cx="676.70" cy="2203.57" r="2.10" fill="#ffffff"/>
<circle cx="701.88" cy="2203.57" r="6.70" fill="#f08f74"/>
<circle cx="802.64" cy="2203.57" r="3.70" fill="#f4d7cb"/>
<circle cx="827.82" cy="2203.57" r="2.10" fill="#ffffff"/>
<circle cx="878.20" cy="2203.57" r="2.10" fill="#ffffff"/>
<circle cx="903.39" cy="2203.57" r="2.35" fill="#e8ab95"/>
<circle cx="928.58" cy="2203.57" r="2.55" fill="#e8ab95"/>
<circle cx="978.95" cy="2203.57" r="2.10" fill="#ffffff"/>
<circle cx="1004.14" cy="2203.57" r="2.10" fill="#ffffff"/>
<circle cx="1054.52" cy="2203.57" r="2.10" fill="#ffffff"/>
<circle cx="1104.89" cy="2203.57" r="3.55" fill="#ca483d"/>
<circle cx="1180.46" cy="2203.57" r="4.70" fill="#9a2227"/>
<circle cx="1205.64" cy="2203.57" r="3.35" fill="#dc7b67"/>
<circle cx="1205.64" cy="2223.90" r="2.10" fill="#ffffff"/>
<circle cx="500.38" cy="2244.22" r="4.70" fill="#d24539"/>
<circle cx="575.94" cy="2244.22" r="4.35" fill="#d0463a"/>
<circle cx="1104.89" cy="2264.55" r="4.85" fill="#e47862"/>
<circle cx="1130.08" cy="2264.55" r="8.05" fill="#f7bea6"/>
<circle cx="1155.27" cy="2264.55" r="8.70" fill="#f7bea6"/>
<circle cx="1054.52" cy="2284.87" r="4.55" fill="#eca992"/>
<circle cx="1079.70" cy="2284.87" r="5.55" fill="#efa890"/>
<circle cx="500.38" cy="2305.20" r="3.70" fill="#942529"/>
<circle cx="525.57" cy="2305.20" r="6.05" fill="#f1a78e"/>
<circle cx="575.94" cy="2305.20" r="5.70" fill="#ec9077"/>
</g>
<rect x="233.00" y="53.60" width="1015.00" height="2265.40" fill="none" stroke="#000" stroke-width="2.1"/>
<path d="M1249.00 69.45H1257.30M1249.00 89.78H1257.30M1249.00 110.10H1257.30M1249.00 130.43H1257.30M1249.00 150.75H1257.30M1249.00 171.07H1257.30M1249.00 191.40H1257.30M1249.00 211.73H1257.30M1249.00 232.05H1257.30M1249.00 252.38H1257.30M1249.00 272.70H1257.30M1249.00 293.02H1257.30M1249.00 313.35H1257.30M1249.00 333.67H1257.30M1249.00 354.00H1257.30M1249.00 374.32H1257.30M1249.00 394.65H1257.30M1249.00 414.97H1257.30M1249.00 435.30H1257.30M1249.00 455.62H1257.30M1249.00 475.95H1257.30M1249.00 496.27H1257.30M1249.00 516.60H1257.30M1249.00 536.92H1257.30M1249.00 557.25H1257.30M1249.00 577.58H1257.30M1249.00 597.90H1257.30M1249.00 618.23H1257.30M1249.00 638.55H1257.30M1249.00 658.88H1257.30M1249.00 679.20H1257.30M1249.00 699.52H1257.30M1249.00 719.85H1257.30M1249.00 740.18H1257.30M1249.00 760.50H1257.30M1249.00 780.83H1257.30M1249.00 801.15H1257.30M1249.00 821.48H1257.30M1249.00 841.80H1257.30M1249.00 862.12H1257.30M1249.00 882.45H1257.30M1249.00 902.77H1257.30M1249.00 923.10H1257.30M1249.00 943.43H1257.30M1249.00 963.75H1257.30M1249.00 984.08H1257.30M1249.00 1004.40H1257.30M1249.00 1024.72H1257.30M1249.00 1045.05H1257.30M1249.00 1065.38H1257.30M1249.00 1085.70H1257.30M1249.00 1106.03H1257.30M1249.00 1126.35H1257.30M1249.00 1146.67H1257.30M1249.00 1167.00H1257.30M1249.00 1187.33H1257.30M1249.00 1207.65H1257.30M1249.00 1227.97H1257.30M1249.00 1248.30H1257.30M1249.00 1268.62H1257.30M1249.00 1288.95H1257.30M1249.00 1309.28H1257.30M1249.00 1329.60H1257.30M1249.00 1349.92H1257.30M1249.00 1370.25H1257.30M1249.00 1390.58H1257.30M1249.00 1410.90H1257.30M1249.00 1431.22H1257.30M1249.00 1451.55H1257.30M1249.00 1471.88H1257.30M1249.00 1492.20H1257.30M1249.00 1512.53H1257.30M1249.00 1532.85H1257.30M1249.00 1553.17H1257.30M1249.00 1573.50H1257.30M1249.00 1593.83H1257.30M1249.00 1614.15H1257.30M1249.00 1634.47H1257.30M1249.00 1654.80H1257.30M1249.00 1675.12H1257.30M1249.00 1695.45H1257.30M1249.00 1715.78H1257.30M1249.00 1736.10H1257.30M1249.00 1756.42H1257.30M1249.00 1776.75H1257.30M1249.00 1797.08H1257.30M1249.00 1817.40H1257.30M1249.00 1837.72H1257.30M1249.00 1858.05H1257.30M1249.00 1878.38H1257.30M1249.00 1898.70H1257.30M1249.00 1919.03H1257.30M1249.00 1939.35H1257.30M1249.00 1959.67H1257.30M1249.00 1980.00H1257.30M1249.00 2000.33H1257.30M1249.00 2020.65H1257.30M1249.00 2040.97H1257.30M1249.00 2061.30H1257.30M1249.00 2081.62H1257.30M1249.00 2101.95H1257.30M1249.00 2122.27H1257.30M1249.00 2142.60H1257.30M1249.00 2162.92H1257.30M1249.00 2183.25H1257.30M1249.00 2203.57H1257.30M1249.00 2223.90H1257.30M1249.00 2244.22H1257.30M1249.00 2264.55H1257.30M1249.00 2284.87H1257.30M1249.00 2305.20H1257.30M248.50 2320.00V2327.50M273.69 2320.00V2327.50M298.88 2320.00V2327.50M324.06 2320.00V2327.50M349.25 2320.00V2327.50M374.44 2320.00V2327.50M399.63 2320.00V2327.50M424.82 2320.00V2327.50M450.00 2320.00V2327.50M475.19 2320.00V2327.50M500.38 2320.00V2327.50M525.57 2320.00V2327.50M550.76 2320.00V2327.50M575.94 2320.00V2327.50M601.13 2320.00V2327.50M626.32 2320.00V2327.50M651.51 2320.00V2327.50M676.70 2320.00V2327.50M701.88 2320.00V2327.50M727.07 2320.00V2327.50M752.26 2320.00V2327.50M777.45 2320.00V2327.50M802.64 2320.00V2327.50M827.82 2320.00V2327.50M853.01 2320.00V2327.50M878.20 2320.00V2327.50M903.39 2320.00V2327.50M928.58 2320.00V2327.50M953.76 2320.00V2327.50M978.95 2320.00V2327.50M1004.14 2320.00V2327.50M1029.33 2320.00V2327.50M1054.52 2320.00V2327.50M1079.70 2320.00V2327.50M1104.89 2320.00V2327.50M1130.08 2320.00V2327.50M1155.27 2320.00V2327.50M1180.46 2320.00V2327.50M1205.64 2320.00V2327.50M1230.83 2320.00V2327.50" stroke="#000" stroke-width="1.6" fill="none"/>
<g font-size="22.85">
<text x="1266" y="76.15">Acinar</text>
<text x="1266" y="96.48">Adipocyte</text>
<text x="1266" y="116.80">Atrial (myocyte)</text>
<text x="1266" y="137.12">Cytotrophoblast</text>
<text x="1266" y="157.45">Endocrine</text>
<text x="1266" y="177.77">Alpha</text>
<text x="1266" y="198.10">Beta</text>
<text x="1266" y="218.43">Delta</text>
<text x="1266" y="238.75">Gamma</text>
<text x="1266" y="259.07">Endometrium (decidual cell)</text>
<text x="1266" y="279.40">Epithelial</text>
<text x="1266" y="299.72">AT1</text>
<text x="1266" y="320.05">AT2</text>
<text x="1266" y="340.37">Apical keratinocyte</text>
<text x="1266" y="360.70">Basal keratinocyte</text>
<text x="1266" y="381.02">Basal</text>
<text x="1266" y="401.35">CD-A-IC</text>
<text x="1266" y="421.67">CD-B-IC</text>
<text x="1266" y="442.00">CD-IC</text>
<text x="1266" y="462.32">CD-PC</text>
<text x="1266" y="482.65">CNT</text>
<text x="1266" y="502.97">Cholangiocyte</text>
<text x="1266" y="523.30">Multiciliated</text>
<text x="1266" y="543.62">Corneal</text>
<text x="1266" y="563.95">DCT</text>
<text x="1266" y="584.28">Ductal</text>
<text x="1266" y="604.60">Enterocyte Best4+</text>
<text x="1266" y="624.93">Enterocyte mature</text>
<text x="1266" y="645.25">Enterocyte progenitors</text>
<text x="1266" y="665.58">Goblet</text>
<text x="1266" y="685.90">HBC</text>
<text x="1266" y="706.23">Hepatocyte</text>
<text x="1266" y="726.55">Enterocyte immature</text>
<text x="1266" y="746.88">Ionocyte</text>
<text x="1266" y="767.20">KRT13</text>
<text x="1266" y="787.53">Luminal</text>
<text x="1266" y="807.85">M</text>
<text x="1266" y="828.18">Microvillous</text>
<text x="1266" y="848.50">Myoepithelial</text>
<text x="1266" y="868.83">Neuroendocrine</text>
<text x="1266" y="889.15">PCT</text>
<text x="1266" y="909.48">PEC</text>
<text x="1266" y="929.80">Sebocyte</text>
<text x="1266" y="950.13">Secretory</text>
<text x="1266" y="970.45">Serous</text>
<text x="1266" y="990.78">Stem</text>
<text x="1266" y="1011.10">Sustentacular</text>
<text x="1266" y="1031.42">TA</text>
<text x="1266" y="1051.75">TAL</text>
<text x="1266" y="1072.08">Tuft</text>
<text x="1266" y="1092.40">Urothelium</text>
<text x="1266" y="1112.73">tDL</text>
<text x="1266" y="1133.05">Extravillous trophoblast</text>
<text x="1266" y="1153.38">Glia</text>
<text x="1266" y="1173.70">OPC</text>
<text x="1266" y="1194.03">Oligodendrocyte</text>
<text x="1266" y="1214.35">Erythroblast</text>
<text x="1266" y="1234.67">Erythroid</text>
<text x="1266" y="1255.00">HSC</text>
<text x="1266" y="1275.33">Megakaryocyte</text>
<text x="1266" y="1295.65">ICC</text>
<text x="1266" y="1315.98">Alveolar macrophage</text>
<text x="1266" y="1336.30">Lymphocyte</text>
<text x="1266" y="1356.62">Macrophage</text>
<text x="1266" y="1376.95">Microglia</text>
<text x="1266" y="1397.28">Myeloid</text>
<text x="1266" y="1417.60">Mesothelium</text>
<text x="1266" y="1437.92">Myocyte</text>
<text x="1266" y="1458.25">Neural crest (melanocyte)</text>
<text x="1266" y="1478.58">Neuronal</text>
<text x="1266" y="1498.90">IT</text>
<text x="1266" y="1519.23">L4 IT</text>
<text x="1266" y="1539.55">L5 ET</text>
<text x="1266" y="1559.88">L5/6 IT Car3</text>
<text x="1266" y="1580.20">L5/6 NP</text>
<text x="1266" y="1600.53">L6 CT</text>
<text x="1266" y="1620.85">L6b</text>
<text x="1266" y="1641.17">LAMP5</text>
<text x="1266" y="1661.50">Neuronal progenitor</text>
<text x="1266" y="1681.83">PEMN 1</text>
<text x="1266" y="1702.15">PEMN 2</text>
<text x="1266" y="1722.48">PEMN 3</text>
<text x="1266" y="1742.80">PEMN 4</text>
<text x="1266" y="1763.12">PIMN 1</text>
<text x="1266" y="1783.45">PIMN 2</text>
<text x="1266" y="1803.78">PIMN 3</text>
<text x="1266" y="1824.10">PIMN 4</text>
<text x="1266" y="1844.42">PIMN 5</text>
<text x="1266" y="1864.75">PIN 1</text>
<text x="1266" y="1885.08">PIN 2</text>
<text x="1266" y="1905.40">PSN</text>
<text x="1266" y="1925.73">PSVN 1</text>
<text x="1266" y="1946.05">PSVN 2</text>
<text x="1266" y="1966.38">PVALB</text>
<text x="1266" y="1986.70">SST</text>
<text x="1266" y="2007.03">VIP</text>
<text x="1266" y="2027.35">VLMC</text>
<text x="1266" y="2047.67">Chondrocyte</text>
<text x="1266" y="2068.00">Endothelial</text>
<text x="1266" y="2088.32">Fibroblast</text>
<text x="1266" y="2108.65">JCT cell</text>
<text x="1266" y="2128.97">MSC</text>
<text x="1266" y="2149.30">Mesangium</text>
<text x="1266" y="2169.62">Mural</text>
<text x="1266" y="2189.95">Pericyte</text>
<text x="1266" y="2210.27">SMC</text>
<text x="1266" y="2230.60">Satellite cell</text>
<text x="1266" y="2250.92">Vasc. smooth muscle</text>
<text x="1266" y="2271.25">Syncytiotrophoblast</text>
<text x="1266" y="2291.57">Tumor</text>
<text x="1266" y="2311.90">Ventricular (myocyte)</text>
</g>
<g font-size="22.85" text-anchor="end">
<text transform="translate(252.15 2332.40) rotate(-90)">Adipose (healthy)</text>
<text transform="translate(277.44 2332.40) rotate(-90)">Bone marrow (healthy)</text>
<text transform="translate(302.73 2332.40) rotate(-90)">Brain (healthy)</text>
<text transform="translate(328.01 2332.40) rotate(-90)">Breast (healthy)</text>
<text transform="translate(353.30 2332.40) rotate(-90)">Colon (healthy)</text>
<text transform="translate(378.59 2332.40) rotate(-90)">Cord blood (healthy)</text>
<text transform="translate(403.88 2332.40) rotate(-90)">ENS (healthy)</text>
<text transform="translate(429.17 2332.40) rotate(-90)">E. mucosa (healthy, snRNA-Seq)</text>
<text transform="translate(454.45 2332.40) rotate(-90)">Eye</text>
<text transform="translate(479.74 2332.40) rotate(-90)">E. muscularis (healthy, snRNA-Seq)</text>
<text transform="translate(505.03 2332.40) rotate(-90)">Heart 1, atrium (healthy)</text>
<text transform="translate(530.32 2332.40) rotate(-90)">Heart 2 (healthy)</text>
<text transform="translate(555.61 2332.40) rotate(-90)">Heart 3 (healthy, snRNA-Seq)</text>
<text transform="translate(580.89 2332.40) rotate(-90)">Heart 4, ventricle (healthy)</text>
<text transform="translate(606.18 2332.40) rotate(-90)">Kidney (healthy)</text>
<text transform="translate(631.47 2332.40) rotate(-90)">Liver (healthy)</text>
<text transform="translate(656.76 2332.40) rotate(-90)">Lung 1 (fibrosis, snRNA-Seq)</text>
<text transform="translate(682.05 2332.40) rotate(-90)">Lung 2 (healthy)</text>
<text transform="translate(707.33 2332.40) rotate(-90)">Lung 3 (healthy)</text>
<text transform="translate(732.62 2332.40) rotate(-90)">Lung 4 (healthy)</text>
<text transform="translate(757.91 2332.40) rotate(-90)">Lung 5 (healthy)</text>
<text transform="translate(783.20 2332.40) rotate(-90)">Lung 6 (healthy)</text>
<text transform="translate(808.49 2332.40) rotate(-90)">Lung 7 (healthy)</text>
<text transform="translate(833.77 2332.40) rotate(-90)">Lung 8 (healthy)</text>
<text transform="translate(859.06 2332.40) rotate(-90)">Lung 9 (healthy, snRNA-Seq)</text>
<text transform="translate(884.35 2332.40) rotate(-90)">Lung 10 (healthy, snRNA-Seq)</text>
<text transform="translate(909.64 2332.40) rotate(-90)">Lung 11 (non-smoker)</text>
<text transform="translate(934.93 2332.40) rotate(-90)">Lung 12 (smoker)</text>
<text transform="translate(960.21 2332.40) rotate(-90)">Nasal 1 (healthy)</text>
<text transform="translate(985.50 2332.40) rotate(-90)">Nasal 2 (polyps)</text>
<text transform="translate(1010.79 2332.40) rotate(-90)">Olfactory epithelium (nasal tumor)</text>
<text transform="translate(1036.08 2332.40) rotate(-90)">Pancreas 1 (healthy)</text>
<text transform="translate(1061.37 2332.40) rotate(-90)">Pancreas 2 (PDAC, naïve)</text>
<text transform="translate(1086.65 2332.40) rotate(-90)">Pancreas 3 (PDAC, treated)</text>
<text transform="translate(1111.94 2332.40) rotate(-90)">Placenta 1 (healthy)</text>
<text transform="translate(1137.23 2332.40) rotate(-90)">Placenta 2 (healthy)</text>
<text transform="translate(1162.52 2332.40) rotate(-90)">Placenta 3 (healthy)</text>
<text transform="translate(1187.81 2332.40) rotate(-90)">Prostate (healthy, snRNA-Seq)</text>
<text transform="translate(1213.09 2332.40) rotate(-90)">Skeletal muscle (healthy, snRNA-Seq)</text>
<text transform="translate(1238.38 2332.40) rotate(-90)">Skin (healthy, snRNA-Seq)</text>
</g>
<rect x="1512.9" y="143.00" width="3" height="96.40" fill="#000"/>
<text x="1534" y="197.40" font-size="27.6" font-weight="bold">Endocrine</text>
<rect x="1512.9" y="267.00" width="3" height="843.90" fill="#000"/>
<text x="1534" y="699.00" font-size="27.6" font-weight="bold">Epithelial</text>
<rect x="1512.9" y="1138.00" width="3" height="54.00" fill="#000"/>
<text x="1534" y="1169.90" font-size="27.6" font-weight="bold">Glia</text>
<rect x="1512.9" y="1199.90" width="3" height="68.50" fill="#000"/>
<text x="1534" y="1242.30" font-size="27.6" font-weight="bold">Hematopoietic</text>
<rect x="1512.9" y="1299.60" width="3" height="92.70" fill="#000"/>
<text x="1534" y="1351.30" font-size="27.6" font-weight="bold">Immune</text>
<rect x="1512.9" y="1466.20" width="3" height="557.70" fill="#000"/>
<text x="1534" y="1747.80" font-size="27.6" font-weight="bold">Neuronal</text>
<rect x="1512.9" y="2030.40" width="3" height="218.90" fill="#000"/>
<text x="1534" y="2131.20" font-size="27.6" font-weight="bold">Stromal</text>
<text y="26.7" font-size="36"><tspan x="645" font-style="italic">ACE2</tspan></text>
<text x="737.4" y="22.6" font-size="34.5">+</text>
<text x="766.8" y="26.4" font-size="36">(%)</text>
<text x="217.2" y="1826.4" font-size="29" text-anchor="end">Percent</text>
<text x="217.6" y="1855.5" font-size="29" text-anchor="end">expressed</text>
<circle cx="197.2" cy="1886.50" r="13.15" fill="#1c1c1c"/>
<text x="168.8" y="1895.70" font-size="24" text-anchor="end">20</text>
<circle cx="197.2" cy="1927.90" r="11.95" fill="#1c1c1c"/>
<text x="168.8" y="1936.90" font-size="24" text-anchor="end">15</text>
<circle cx="197.2" cy="1966.50" r="10.40" fill="#1c1c1c"/>
<text x="168.8" y="1976.00" font-size="24" text-anchor="end">10</text>
<circle cx="197.2" cy="2000.30" r="8.00" fill="#1c1c1c"/>
<text x="168.8" y="2010.10" font-size="24" text-anchor="end">5</text>
<circle cx="197.2" cy="2033.70" r="2.75" fill="#1c1c1c"/>
<text x="168.8" y="2041.30" font-size="24" text-anchor="end">0</text>
<text x="217.6" y="2111.5" font-size="29" text-anchor="end">Mean expression</text>
<text x="217.0" y="2140.3" font-size="29" text-anchor="end">log(TP10K+1)</text>
<defs><linearGradient id="cb" x1="0" y1="1" x2="0" y2="0"><stop offset="0" stop-color="#fae2da"/><stop offset="0.087" stop-color="#f7cdbd"/><stop offset="0.18" stop-color="#f5b29b"/><stop offset="0.267" stop-color="#f3967b"/><stop offset="0.40" stop-color="#f0735f"/><stop offset="0.503" stop-color="#ef5b48"/><stop offset="0.584" stop-color="#ee4332"/><stop offset="0.677" stop-color="#e3322c"/><stop offset="0.801" stop-color="#cd2026"/><stop offset="0.925" stop-color="#b21e25"/><stop offset="1" stop-color="#9e1c22"/></linearGradient></defs>
<rect x="184.6" y="2158.1" width="33.3" height="161.0" fill="url(#cb)" stroke="#000" stroke-width="1.5"/>
<text x="174.6" y="2199.70" font-size="24" text-anchor="end">3</text>
<text x="174.6" y="2240.60" font-size="24" text-anchor="end">2</text>
<text x="174.6" y="2281.90" font-size="24" text-anchor="end">1</text>
<text x="174.6" y="2324.60" font-size="24" text-anchor="end">0</text>
<path d="M178.4 2189.60H184M178.4 2238.80H184M178.4 2276.60H184M178.4 2314.90H184" stroke="#000" stroke-width="1.6"/>
</svg></body></html>
